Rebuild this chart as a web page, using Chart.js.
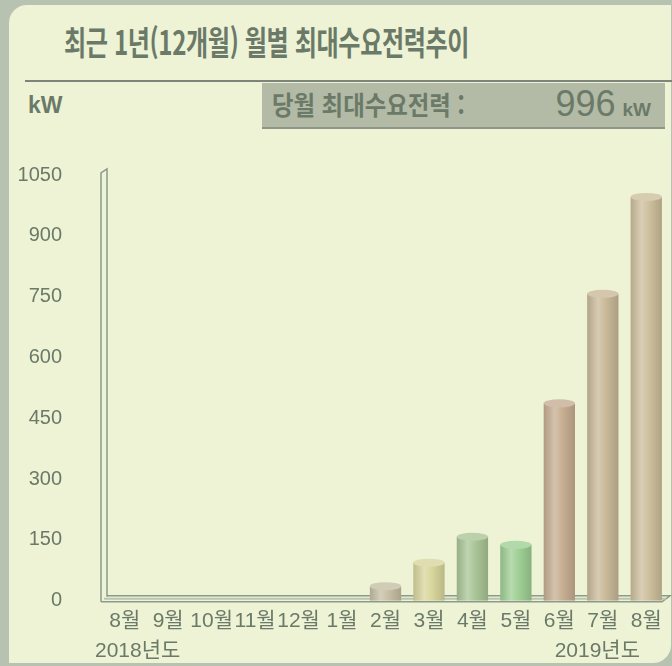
<!DOCTYPE html>
<html lang="ko">
<head>
<meta charset="utf-8">
<title>최근 1년(12개월) 월별 최대수요전력추이</title>
<script src="https://cdn.jsdelivr.net/npm/chart.js@4/dist/chart.umd.min.js"></script>
<style>
  html, body { margin: 0; padding: 0; }
  body { width: 672px; height: 666px; background: #b7c2b0; position: relative; overflow: hidden;
         font-family: "Noto Sans CJK KR", "Noto Sans", sans-serif; color: #6b7a68; }
  #panel { position: absolute; left: 9px; top: 5px; width: 662px; height: 658px;
           background: #eef3d6; border-radius: 18px 0 18px 0; }
  #title { position: absolute; left: 64px; top: 17px; font-size: 33px; font-weight: 700;
           white-space: nowrap; transform: scaleX(0.73); transform-origin: left top; letter-spacing: -0.5px; }
  #rule { position: absolute; left: 25px; top: 80px; width: 647px; height: 0; border-top: 2px solid #7d857a; }
  #unit { position: absolute; left: 28px; top: 92px; font: 700 23px "Liberation Sans", Arial, sans-serif; }
  #box { position: absolute; left: 262px; top: 83px; width: 403px; height: 44px; background: #b3bba6;
         border-bottom: 2px solid #8d9688; }
  #boxLabel { position: absolute; left: 10px; top: 2px; font-size: 26px; font-weight: 700; white-space: nowrap;
              transform: scaleX(0.9); transform-origin: left top; }
  #boxValue { position: absolute; right: 14px; top: 0px; white-space: nowrap; font-family: "Liberation Sans", Arial, sans-serif; }
  #boxValue .num { font-size: 36px; }
  #boxValue .u { font-size: 19px; font-weight: 700; margin-left: 7px; }
  #c { position: absolute; left: 0; top: 0; }
</style>
</head>
<body>
<div id="panel"></div>
<div id="title">최근 1년(12개월) 월별 최대수요전력추이</div>
<div id="rule"></div>
<div id="unit">kW</div>
<div id="box">
  <div id="boxLabel">당월 최대수요전력 :</div>
  <div id="boxValue"><span class="num">996</span><span class="u">kW</span></div>
</div>
<canvas id="c" width="672" height="666"></canvas>
<script>
  const MONTHS = ["8월", "9월", "10월", "11월", "12월", "1월", "2월", "3월", "4월", "5월", "6월", "7월", "8월"];
  const DEMAND_KW = [0, 0, 0, 0, 0, 0, 36, 94, 158, 138, 487, 757, 996];
  const BAR_COLORS = ["#c4c2a2", "#c4c2a2", "#c4c2a2", "#c4c2a2", "#c4c2a2", "#c4c2a2",
                      "#c6bfa4", "#d8d69c", "#a9c596", "#9fcf94", "#c7ae92", "#c9b999", "#cdbf9c"];
  const YEAR_LABELS = ["2018년도", "2019년도"];
  const Y_MAX = 1050, Y_STEP = 150;

  const INK = "#6b7a68";
  const FRAME = "#8c9a89";

  function shade(hex, amt) {
    const n = parseInt(hex.slice(1), 16);
    let r = (n >> 16) & 255, g = (n >> 8) & 255, b = n & 255;
    const f = (v) => Math.max(0, Math.min(255, Math.round(amt < 0 ? v * (1 + amt) : v + (255 - v) * amt)));
    return "rgb(" + f(r) + "," + f(g) + "," + f(b) + ")";
  }

  // cylinder-ish horizontal gradient for each bar
  function barFill(ctx) {
    const chart = ctx.chart;
    const area = chart.chartArea;
    if (!area || ctx.type !== "data") return BAR_COLORS[ctx.dataIndex];
    const x = chart.scales.x.getPixelForValue(ctx.dataIndex);
    const half = 16;
    const base = BAR_COLORS[ctx.dataIndex];
    const g = chart.ctx.createLinearGradient(x - half, 0, x + half, 0);
    g.addColorStop(0, shade(base, -0.12));
    g.addColorStop(0.35, shade(base, 0.25));
    g.addColorStop(0.6, base);
    g.addColorStop(1, shade(base, -0.15));
    return g;
  }

  const framePlugin = {
    id: "frame",
    beforeDatasetsDraw(chart) {
      const { ctx, chartArea: a } = chart;
      ctx.save();
      ctx.strokeStyle = FRAME;
      ctx.lineWidth = 1.5;
      // back wall (left) double line
      ctx.beginPath();
      ctx.moveTo(a.left - 2, a.bottom + 1);
      ctx.lineTo(a.left - 2, a.top - 2);
      ctx.lineTo(a.left + 4, a.top - 6);
      ctx.lineTo(a.left + 4, a.bottom - 4);
      ctx.stroke();
      // floor
      ctx.beginPath();
      ctx.moveTo(a.left - 2, a.bottom + 1);
      ctx.lineTo(a.right - 6, a.bottom + 1);
      ctx.lineTo(a.right + 2, a.bottom - 5);
      ctx.lineTo(a.left + 4, a.bottom - 5);
      ctx.stroke();
      ctx.strokeStyle = "#b9c4b1";
      ctx.lineWidth = 2;
      ctx.beginPath();
      ctx.moveTo(a.left + 1, a.bottom - 2);
      ctx.lineTo(a.right - 2, a.bottom - 2);
      ctx.stroke();
      ctx.restore();
    },
    afterDatasetsDraw(chart) {
      const { ctx } = chart;
      const meta = chart.getDatasetMeta(0);
      ctx.save();
      meta.data.forEach((bar, i) => {
        if (!DEMAND_KW[i]) return;
        const w = bar.width;
        ctx.fillStyle = shade(BAR_COLORS[i], 0.2);
        ctx.beginPath();
        ctx.ellipse(bar.x, bar.y, w / 2, 4, 0, 0, Math.PI * 2);
        ctx.fill();
      });
      ctx.restore();
    },
    afterDraw(chart) {
      const { ctx, chartArea: a } = chart;
      ctx.save();
      ctx.fillStyle = INK;
      ctx.font = '21px "Liberation Sans", "Noto Sans CJK KR", sans-serif';
      ctx.textBaseline = "middle";
      ctx.textAlign = "left";
      ctx.fillText(YEAR_LABELS[0], a.left - 8, 651);
      ctx.textAlign = "right";
      ctx.fillText(YEAR_LABELS[1], a.right - 28, 651);
      ctx.restore();
    }
  };

  new Chart(document.getElementById("c"), {
    type: "bar",
    data: {
      labels: MONTHS,
      datasets: [{
        data: DEMAND_KW,
        backgroundColor: barFill,
        borderWidth: 0,
        barPercentage: 0.72,
        categoryPercentage: 1.0
      }]
    },
    options: {
      responsive: false,
      animation: false,
      layout: { padding: { top: 175, right: 4, bottom: 32, left: 0 } },
      plugins: { legend: { display: false }, tooltip: { enabled: false } },
      scales: {
        x: {
          grid: { display: false },
          border: { display: false },
          ticks: { color: INK, font: { size: 21, family: '"Liberation Sans", "Noto Sans CJK KR", sans-serif' },
                   padding: 0, maxRotation: 0, autoSkip: false }
        },
        y: {
          min: 0, max: Y_MAX,
          grid: { display: false },
          border: { display: false },
          afterFit(scale) { scale.width = 103; },
          ticks: { stepSize: Y_STEP, color: INK, padding: 33,
                   callback: (v) => String(v),
                   font: { size: 20, family: '"Liberation Sans", Arial, sans-serif' } }
        }
      }
    },
    plugins: [framePlugin]
  });
</script>
</body>
</html>
